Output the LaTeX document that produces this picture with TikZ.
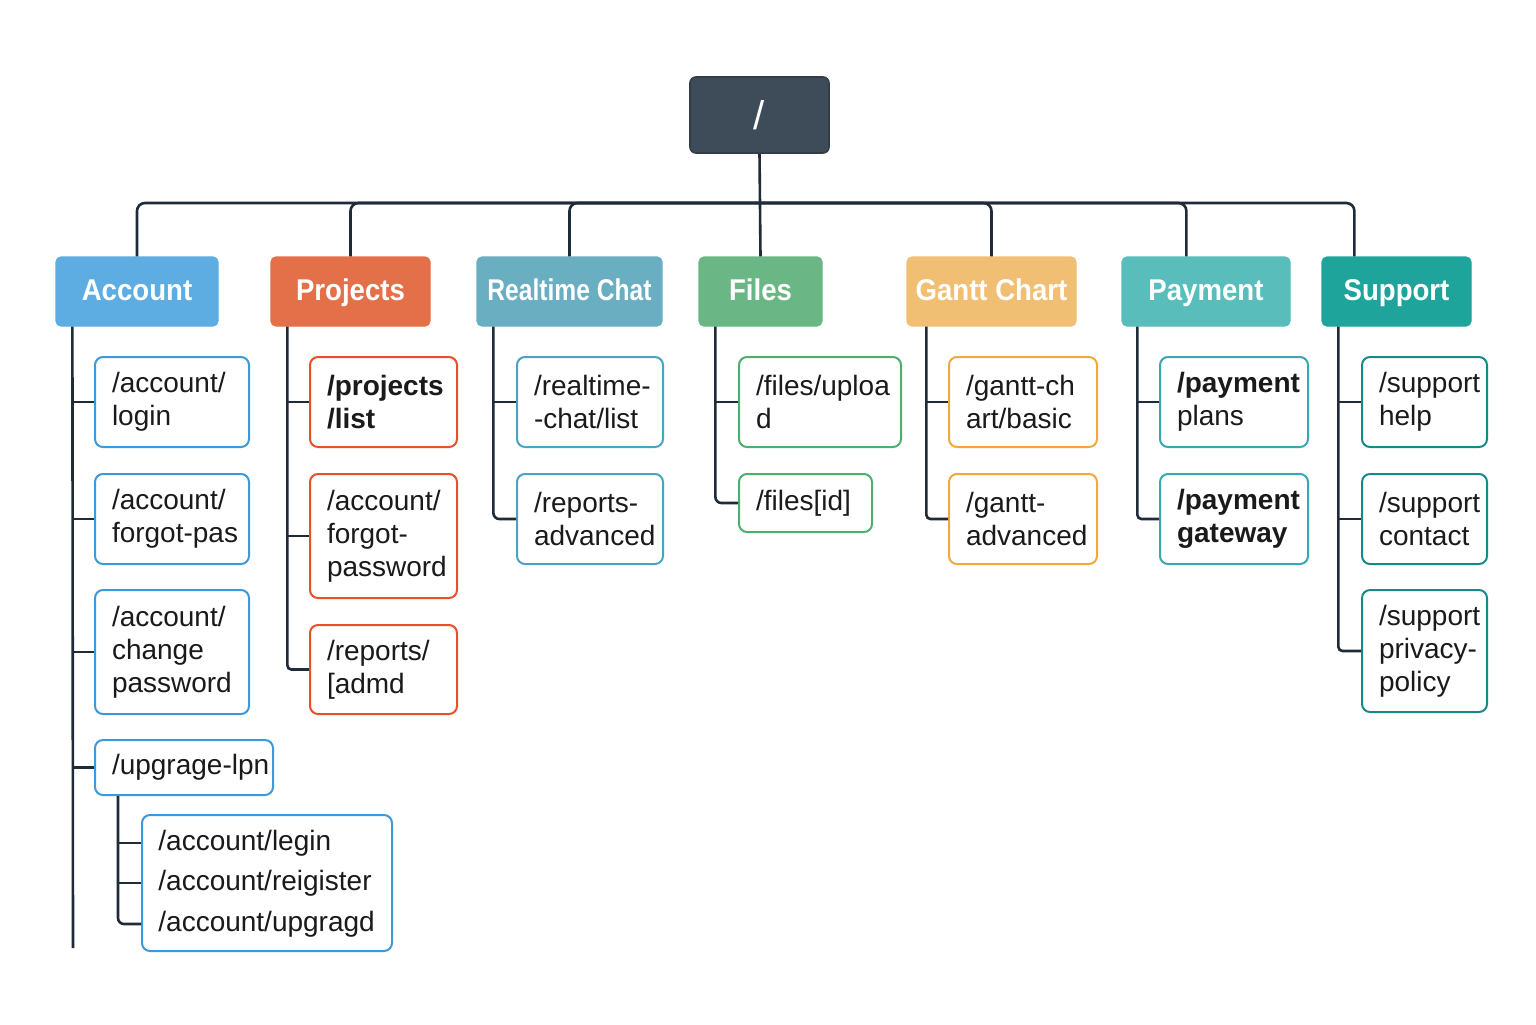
\documentclass[tikz,border=0pt]{standalone}
\usepackage{fontspec}
\setmainfont{Liberation Sans}
\newfontfamily\headfont[FakeStretch=0.92]{Liberation Sans}
\newfontfamily\narrowfont[FakeStretch=0.82]{Liberation Sans}
\hyphenpenalty=10000 \exhyphenpenalty=10000

\definecolor{wirec}{HTML}{1F2B38}
\definecolor{ink}{HTML}{1A1A1A}
\definecolor{rootc}{HTML}{3E4C59}
\definecolor{accc}{HTML}{5DADE2}  \definecolor{accb}{HTML}{3C9AD9}
\definecolor{prjc}{HTML}{E4704A}  \definecolor{prjb}{HTML}{E8502C}
\definecolor{chatc}{HTML}{6AAEC2} \definecolor{chatb}{HTML}{4BA3C3}
\definecolor{filec}{HTML}{6AB785} \definecolor{fileb}{HTML}{4CAF6E}
\definecolor{ganc}{HTML}{F0BF73}  \definecolor{ganb}{HTML}{F3A93A}
\definecolor{payc}{HTML}{58BDBB}  \definecolor{payb}{HTML}{39A7B2}
\definecolor{supc}{HTML}{1FA49C}  \definecolor{supb}{HTML}{168A8A}

\tikzset{
  wire/.style={line width=1.3pt, draw=wirec},
  cat/.style={fill=#1, draw=#1, line width=0.6pt, rounded corners=2.5pt,
    minimum height=34.5pt, text height=11pt, text depth=2.5pt, text=white,
    font=\headfont\bfseries\fontsize{15}{18}\selectfont},
  kid/.style={draw=#1, line width=1pt, rounded corners=4pt, fill=white,
    minimum height=45pt, align=left, inner xsep=8.5pt, text=ink,
    font=\fontsize{14}{16.5}\selectfont},
  subline/.style={anchor=west, inner sep=0pt, text=ink, font=\fontsize{14}{16.5}\selectfont}
}

\begin{document}
\begin{tikzpicture}[x=0.5pt,y=-0.5pt]
  \fill[white] (0,0) rectangle (1536,1024);
  \useasboundingbox (0,0) rectangle (1536,1024);

  \node[fill=rootc, draw=rootc!80!black, line width=0.8pt, rounded corners=3pt,
        minimum width=69.5pt, minimum height=38pt, text=white,
        font=\fontsize{20}{24}\selectfont] (root) at (759.5,115) {/};

  % sections
  \node[cat=accc,  minimum width=81pt]   (acc)   at (137,291.5)    {Account};
  \node[cat=prjc,  minimum width=79.5pt] (prj)   at (350.5,291.5)  {Projects};
  \node[cat=chatc, minimum width=92.5pt, font=\narrowfont\bfseries\fontsize{15}{18}\selectfont]
                                         (chat)  at (569.5,291.5)  {Realtime Chat};
  \node[cat=filec, minimum width=61.5pt] (files) at (760.5,291.5)  {Files};
  \node[cat=ganc,  minimum width=84.5pt] (gan)   at (991.5,291.5)  {Gantt Chart};
  \node[cat=payc,  minimum width=84pt]   (pay)   at (1206,291.5)   {Payment};
  \node[cat=supc,  minimum width=74.5pt] (sup)   at (1396.5,291.5) {Support};

  \coordinate (bus) at (760,203);
  \draw[wire] (root.south) -- (files.north);
  \foreach \c in {acc,prj,chat,gan}
    \draw[wire, rounded corners=4pt] (bus) -| (\c.north);
  \draw[wire, rounded corners=4pt] (bus) -| ([xshift=32.5pt]pay.north west);
  \draw[wire, rounded corners=4pt] (bus) -| ([xshift=16.5pt]sup.north west);

  % account
  \node[kid=accb, text width=60pt] (a1) at (172,402) {/account/\\login};
  \node[kid=accb, text width=60pt] (a2) at (172,519) {/account/\\forgot-pas};
  \node[kid=accb, text width=60pt, minimum height=62pt] (a3) at (172,652) {/account/\\change\\password};
  \node[kid=accb, text width=72pt, minimum height=27.5pt] (a4) at (184,767.5) {/upgrage-lpn};
  \node[draw=accb, line width=1pt, rounded corners=4pt, minimum width=125pt, minimum height=68pt] (a5) at (267,883) {};
  \node[subline] (l1) at (158,843) {/account/legin};
  \node[subline] (l2) at (158,883) {/account/reigister};
  \node[subline] (l3) at (158,924) {/account/upgragd};

  \coordinate (tacc) at ([xshift=8.5pt]acc.south west);
  \coordinate (accend) at (73,948);
  \foreach \k in {a1,a2,a3,a4}
    \draw[wire] (tacc |- \k.west) -- (\k.west);
  \draw[wire] (tacc) -- (accend);
  \coordinate (tsub) at ([xshift=12pt]a4.south west);
  \foreach \k in {l1,l2}
    \draw[wire] (tsub |- \k.west) -- (a5.west |- \k.west);
  \draw[wire, rounded corners=3pt] (tsub) |- (a5.west |- l3.west);

  % projects
  \node[kid=prjb, text width=56.5pt, font=\bfseries\fontsize{14}{16.5}\selectfont] (p1) at (383.5,402) {/projects\\/list};
  \node[kid=prjb, text width=56.5pt, minimum height=62pt] (p2) at (383.5,536) {/account/\\forgot-\\password};
  \node[kid=prjb, text width=56.5pt, minimum height=44.5pt] (p3) at (383.5,669.5) {/reports/\\{}[admd};
  \coordinate (tprj) at ([xshift=8.5pt]prj.south west);
  \foreach \k in {p1,p2}
    \draw[wire] (tprj |- \k.west) -- (\k.west);
  \draw[wire, rounded corners=2pt] (tprj) |- (p3.west);

  % realtime chat
  \node[kid=chatb, text width=56pt] (r1) at (590,402) {/realtime-\\-chat/list};
  \node[kid=chatb, text width=56pt] (r2) at (590,519) {/reports-\\advanced};
  \coordinate (tchat) at ([xshift=8.5pt]chat.south west);
  \draw[wire] (tchat |- r1.west) -- (r1.west);
  \draw[wire, rounded corners=3pt] (tchat) |- (r2.west);

  % files
  \node[kid=fileb, text width=64pt] (f1) at (820,402) {/files/uploa\\d};
  \node[kid=fileb, text width=49.5pt, minimum height=29pt] (f2) at (805.5,503) {/files[id]};
  \coordinate (tfile) at ([xshift=8.5pt]files.south west);
  \draw[wire] (tfile |- f1.west) -- (f1.west);
  \draw[wire, rounded corners=3pt] (tfile) |- (f2.west);

  % gantt chart
  \node[kid=ganb, text width=57pt] (g1) at (1023,402) {/gantt-ch\\art/basic};
  \node[kid=ganb, text width=57pt] (g2) at (1023,519) {/gantt-\\advanced};
  \coordinate (tgan) at ([xshift=10pt]gan.south west);
  \draw[wire] (tgan |- g1.west) -- (g1.west);
  \draw[wire, rounded corners=2pt] (tgan) |- (g2.west);

  % payment
  \node[kid=payb, text width=57pt] (y1) at (1234,402) {\textbf{/payment}\\plans};
  \node[kid=payb, text width=57pt, font=\bfseries\fontsize{14}{16.5}\selectfont] (y2) at (1234,519) {/payment\\gateway};
  \coordinate (tpay) at ([xshift=8pt]pay.south west);
  \draw[wire] (tpay |- y1.west) -- (y1.west);
  \draw[wire, rounded corners=2pt] (tpay) |- (y2.west);

  % support
  \node[kid=supb, text width=45.5pt] (s1) at (1424.5,402) {/support\\help};
  \node[kid=supb, text width=45.5pt] (s2) at (1424.5,519) {/support\\contact};
  \node[kid=supb, text width=45.5pt, minimum height=61pt] (s3) at (1424.5,651) {/support\\privacy-\\policy};
  \coordinate (tsup) at ([xshift=8.5pt]sup.south west);
  \foreach \k in {s1,s2}
    \draw[wire] (tsup |- \k.west) -- (\k.west);
  \draw[wire, rounded corners=2pt] (tsup) |- (s3.west);
\end{tikzpicture}
\end{document}
